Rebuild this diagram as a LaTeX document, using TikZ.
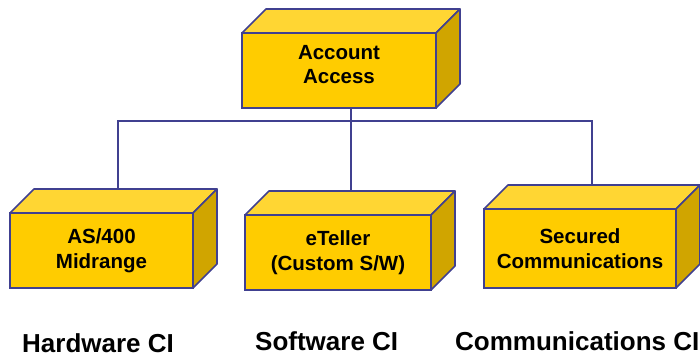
\documentclass[tikz,border=0pt]{standalone}
\usepackage{fontspec}
\setmainfont{Liberation Sans}
\usepackage{tikz}
\usetikzlibrary{positioning,calc}
\definecolor{cifront}{HTML}{FFCC00}
\definecolor{citop}{HTML}{FFD633}
\definecolor{ciside}{HTML}{D0A500}
\definecolor{ciedge}{HTML}{404090}
\def\cidepth{24}
\tikzset{cibox/.style={rectangle,draw=ciedge,fill=cifront,line width=1.6pt,
           outer sep=0pt,align=center,minimum height=75pt,
           font=\fontsize{20.5}{24.5}\selectfont\bfseries},
	 citop/.style={fill=citop,draw=ciedge,line width=1.6pt,line join=round},
	 ciside/.style={fill=ciside,draw=ciedge,line width=1.6pt,line join=round},
	 wire/.style={draw=ciedge,line width=1.6pt},
	 ciname/.style={anchor=base west,inner sep=0pt,font=\fontsize{26}{30}\selectfont\bfseries},
	 node distance = 1
	 }
% top and right faces of a box node
\newcommand\cubefaces[1]{%
  \path[citop] (#1.north west) -- ++(\cidepth,\cidepth)
    -- ($(#1.north east)+(\cidepth,\cidepth)$) -- (#1.north east) -- cycle;
  \path[ciside] (#1.north east) -- ++(\cidepth,\cidepth)
    -- ($(#1.south east)+(\cidepth,\cidepth)$) -- (#1.south east) -- cycle;
  \coordinate (#1-top) at ($(#1.north)+(\cidepth/2,\cidepth)$);}

\begin{document}
\begin{tikzpicture}[x=1pt,y=1pt] % CI tree
        \useasboundingbox (0,0) rectangle (700,356);
        \node[cibox,minimum width=194pt,text depth=12pt] (acct) at (339,285.5) {Account\\Access};
        \node[cibox,minimum width=183pt] (hw) at (101.5,105.5) {AS/400\\Midrange};
        \node[cibox,minimum width=186pt] (sw) at (338,103.5) {eTeller\\(Custom S/W)};
        \node[cibox,minimum width=192pt,minimum height=79pt] (comm) at (580,107.5) {Secured\\Communications};
        \cubefaces{acct}
        \cubefaces{hw}
        \cubefaces{sw}
        \cubefaces{comm}
        \coordinate (fork) at ($(acct.south)+(\cidepth/2,-13)$);
        \coordinate (hwdrop) at ($(hw-top)+(4.5,0)$);
        \draw[wire] (acct.south) ++(\cidepth/2,0) -- (fork);
        \draw[wire] (hwdrop) |- (fork) -| (comm-top);
        \draw[wire] (fork) -- (fork |- sw-top);
        \node[ciname] (hwname) at (22,4) {Hardware CI};
        \node[ciname] (swname) at (255,6) {Software CI};
        \node[ciname] (commname) at (455,6) {Communications CI};
     \end{tikzpicture}
\end{document}
